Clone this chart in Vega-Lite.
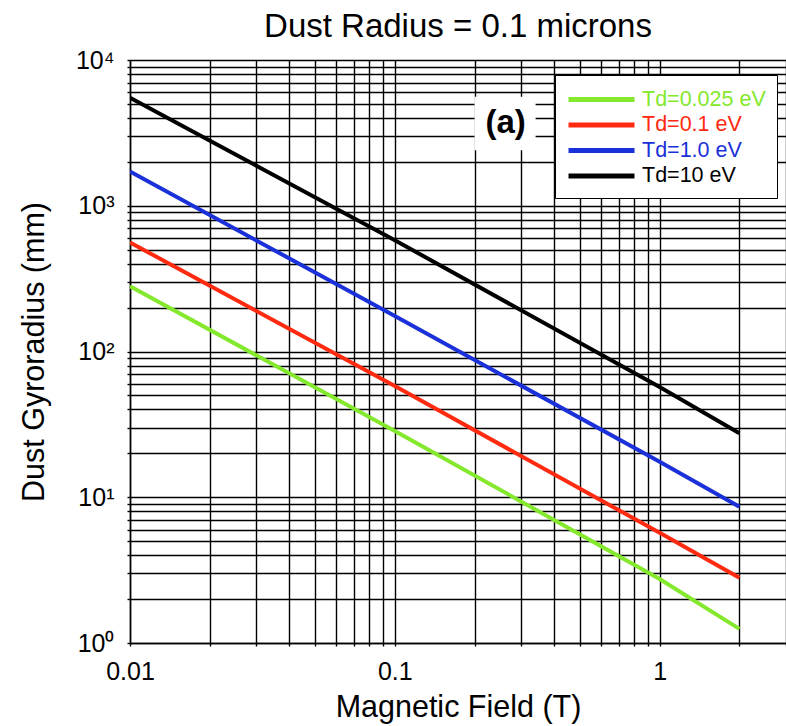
{
  "$schema": "https://vega.github.io/schema/vega-lite/v6.json",
  "width": 656,
  "height": 583,
  "autosize": {"type": "none"},
  "padding": {"left": 130, "top": 60, "right": 0, "bottom": 83},
  "background": "white",
  "title": {"text": "Dust Radius = 0.1 microns", "font": "Liberation Sans", "fontSize": 33, "fontWeight": "normal", "color": "black", "anchor": "middle", "offset": 4},
  "config": {
    "view": {"stroke": null},
    "axis": {"labelFont": "Liberation Sans", "titleFont": "Liberation Sans", "labelColor": "black", "titleColor": "black", "titleFontWeight": "normal", "gridColor": "black", "gridOpacity": 1, "gridWidth": 1.4, "domainColor": "black", "domainWidth": 1.5, "tickColor": "black", "tickSize": 3, "tickWidth": 1.4, "labelOverlap": false, "labelFlush": false}
  },
  "datasets": {
    "lines": [
      {"B": 0.01, "r": 280, "Td": "Td=0.025 eV"},
      {"B": 0.1, "r": 28.5, "Td": "Td=0.025 eV"},
      {"B": 1, "r": 2.75, "Td": "Td=0.025 eV"},
      {"B": 2, "r": 1.25, "Td": "Td=0.025 eV"},
      {"B": 0.01, "r": 560, "Td": "Td=0.1 eV"},
      {"B": 0.1, "r": 58, "Td": "Td=0.1 eV"},
      {"B": 1, "r": 5.7, "Td": "Td=0.1 eV"},
      {"B": 2, "r": 2.8, "Td": "Td=0.1 eV"},
      {"B": 0.01, "r": 1720, "Td": "Td=1.0 eV"},
      {"B": 0.1, "r": 175, "Td": "Td=1.0 eV"},
      {"B": 1, "r": 17.5, "Td": "Td=1.0 eV"},
      {"B": 2, "r": 8.6, "Td": "Td=1.0 eV"},
      {"B": 0.01, "r": 5500, "Td": "Td=10 eV"},
      {"B": 0.1, "r": 580, "Td": "Td=10 eV"},
      {"B": 1, "r": 57, "Td": "Td=10 eV"},
      {"B": 2, "r": 27.5, "Td": "Td=10 eV"}
    ],
    "note": [
      {"x1": 0.2, "x2": 0.34, "y1": 2400, "y2": 5600, "xt": 0.262, "yt": 3700, "label": "(a)"}
    ]
  },
  "layer": [
    {
      "data": {"name": "lines"},
      "mark": {"type": "line", "strokeWidth": 4, "clip": true},
      "encoding": {
        "x": {
          "field": "B", "type": "quantitative",
          "scale": {"type": "log", "domain": [0.01, 3], "nice": false},
          "axis": {
            "title": "Magnetic Field (T)", "titleFontSize": 30.5, "labelFontSize": 25, "labelPadding": 13, "titlePadding": 8,
            "values": [0.01,0.02,0.03,0.04,0.05,0.06,0.07,0.08,0.09,0.1,0.2,0.3,0.4,0.5,0.6,0.7,0.8,0.9,1,2,3],
            "labelExpr": "datum.value == 0.01 ? '0.01' : datum.value == 0.1 ? '0.1' : datum.value == 1 ? '1' : ''"
          }
        },
        "y": {
          "field": "r", "type": "quantitative",
          "scale": {"type": "log", "domain": [1, 10000], "nice": false},
          "axis": {
            "title": "Dust Gyroradius (mm)", "titleFontSize": 30.5, "labelFontSize": 25, "labelPadding": 13, "titlePadding": 26,
            "values": [1,2,3,4,5,6,7,8,9,10,20,30,40,50,60,70,80,90,100,200,300,400,500,600,700,800,900,1000,2000,3000,4000,5000,6000,7000,8000,9000,10000],
            "labelExpr": "datum.value == 1 ? '10⁰' : datum.value == 10 ? '10¹' : datum.value == 100 ? '10²' : datum.value == 1000 ? '10³' : datum.value == 10000 ? '10⁴' : ''"
          }
        },
        "color": {
          "field": "Td", "type": "nominal",
          "scale": {"domain": ["Td=0.025 eV", "Td=0.1 eV", "Td=1.0 eV", "Td=10 eV"], "range": ["#84e82c", "#ff2a10", "#1a30d8", "#000000"]},
          "legend": {
            "title": null, "orient": "none", "legendX": 425, "legendY": 15,
            "fillColor": "white", "strokeColor": "black", "padding": 11,
            "symbolType": "M-3,0H3", "symbolSize": 484, "symbolStrokeWidth": 5, "symbolOffset": 22,
            "labelFont": "Liberation Sans", "labelFontSize": 21.5, "labelOffset": 27, "rowPadding": 1.5,
            "encode": {"labels": {"update": {"fill": {"scale": "color", "field": "value"}}}}
          }
        }
      }
    },
    {
      "data": {"name": "note"},
      "mark": {"type": "rect", "fill": "white"},
      "encoding": {
        "x": {"field": "x1", "type": "quantitative"},
        "x2": {"field": "x2"},
        "y": {"field": "y1", "type": "quantitative"},
        "y2": {"field": "y2"}
      }
    },
    {
      "data": {"name": "note"},
      "mark": {"type": "text", "font": "Liberation Sans", "fontSize": 33, "fontWeight": "bold", "color": "black"},
      "encoding": {
        "x": {"field": "xt", "type": "quantitative"},
        "y": {"field": "yt", "type": "quantitative"},
        "text": {"field": "label"}
      }
    }
  ]
}
